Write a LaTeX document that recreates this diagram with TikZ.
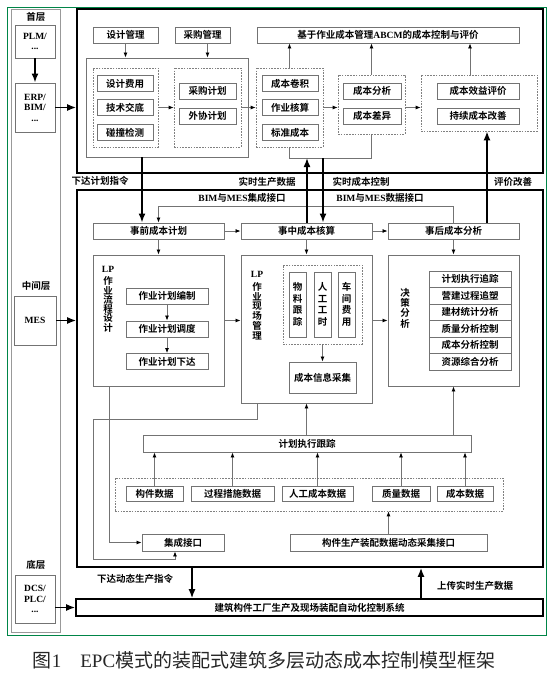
\documentclass[tikz,border=0pt]{standalone}
\usepackage{fontspec}
\setmainfont{Noto Sans CJK SC}[BoldFont={Noto Sans CJK SC Bold}]
\newfontfamily\latf{Liberation Serif}
\usetikzlibrary{positioning, arrows.meta}

\begin{document}
\begin{tikzpicture}[x=1pt, y=-1pt,
  box/.style={draw=black!55, line width=0.9pt, fill=white, inner sep=0pt, minimum height=16pt, align=center, font=\fontsize{9.5}{10.5}\selectfont\bfseries},
  vbox/.style={box, minimum width=17pt, minimum height=65pt, font=\fontsize{9.5}{11.5}\selectfont\bfseries},
  dbox/.style={draw=black!50, line width=0.7pt, dash pattern=on 1.6pt off 1.2pt, inner sep=0pt},
  thickbox/.style={draw=black, line width=1.6pt, inner sep=0pt},
  col/.style={draw=black!40, line width=0.9pt, inner sep=0pt},
  lbl/.style={inner sep=1pt, align=center, font=\fontsize{9.5}{10}\selectfont\bfseries},
  arrow/.style={-{Latex[length=5pt,width=4pt,color=black]}, draw=black!55, line width=0.8pt},
  link/.style={draw=black!55, line width=0.8pt},
  bigarrow/.style={-{Latex[length=9pt,width=7pt]}, line width=1.6pt}
]
  \useasboundingbox (0,0) rectangle (550,680);
  \draw[draw=teal!70!green!80!black, line width=1pt] (7,7) rectangle (546,635);

  % left column: layers
  \node[col, minimum width=49pt, minimum height=623pt] (col) at (35.5,320.5) {};
  \node[lbl] (top) at (36,17) {首层};
  \node[box, minimum width=40pt, minimum height=33pt] (plm) at (35,41.5) {{\latf PLM/}\\{\latf ...}};
  \node[box, minimum width=40pt, minimum height=49pt] (erp) at (35,107.5) {{\latf ERP/}\\{\latf BIM/}\\{\latf ...}};
  \node[lbl] (mid) at (36,286) {中间层};
  \node[box, minimum width=42pt, minimum height=49pt] (mes) at (35,320.5) {\latf MES};
  \node[lbl] (bot) at (36,565) {底层};
  \node[box, minimum width=40pt, minimum height=48pt] (dcs) at (35,599) {{\latf DCS/}\\{\latf PLC/}\\{\latf ...}};

  % upper block
  \node[thickbox, minimum width=466pt, minimum height=164pt] (upper) at (310,91) {};
  \node[box, minimum width=65pt] (sjgl) at (125.5,35) {设计管理};
  \node[box, minimum width=55pt] (cggl) at (202.5,35) {采购管理};
  \node[box, minimum width=262pt] (abcm) at (388,35) {基于作业成本管理{\latf ABCM}的成本控制与评价};
  \node[box, minimum width=162pt, minimum height=99pt] (plan) at (167,107.5) {};
  \node[dbox, minimum width=65pt, minimum height=79pt] (d1) at (125.5,107.5) {};
  \node[box, minimum width=56pt] (sjfy) at (125,83.5) {设计费用};
  \node[box, minimum width=56pt] (jsjd) at (125,107.5) {技术交底};
  \node[box, minimum width=56pt] (pzjc) at (125,132.5) {碰撞检测};
  \node[dbox, minimum width=67pt, minimum height=79pt] (d2) at (207.5,107.5) {};
  \node[box, minimum width=57pt] (cgjh) at (207.5,91) {采购计划};
  \node[box, minimum width=57pt] (wxjh) at (207.5,116) {外协计划};
  \node[dbox, minimum width=67pt, minimum height=79pt] (d3) at (289.5,107.5) {};
  \node[box, minimum width=56pt] (cbjj) at (290,83.5) {成本卷积};
  \node[box, minimum width=56pt] (zyhs) at (290,107.5) {作业核算};
  \node[box, minimum width=56pt] (bzcb) at (290,132.5) {标准成本};
  \node[dbox, minimum width=67pt, minimum height=59pt] (d4) at (371.5,104.5) {};
  \node[box, minimum width=58pt] (cbfx) at (372,91) {成本分析};
  \node[box, minimum width=58pt] (cbcy) at (372,116) {成本差异};
  \node[dbox, minimum width=116pt, minimum height=56pt] (d5) at (479,103) {};
  \node[box, minimum width=82pt] (cbxy) at (478,91) {成本效益评价};
  \node[box, minimum width=82pt] (cxgs) at (478,116) {持续成本改善};

  \draw[arrow] (d1.north |- sjgl.south) -- (d1.north |- plan.north);
  \draw[arrow] (d2.north |- cggl.south) -- (d2.north |- plan.north);
  \draw[arrow] (d1.east) -- (d2.west);
  \draw[arrow] (d2.east) -- (d3.west);
  \draw[arrow] (d3.east) -- (d3.east -| d4.west);
  \draw[arrow] (d3.east -| d4.east) -- (d3.east -| d5.west);
  \draw[arrow] (d3.north) -- (d3.north |- abcm.south);
  \draw[arrow] (d4.north) -- (d4.north |- abcm.south);
  \draw[arrow] ([xshift=-9pt]d5.north) -- ([xshift=-9pt]d5.north |- abcm.south);
  \coordinate (brk) at (0,158);
  \draw[link] (d3.south) -- (d3.south |- brk) -| (d4.south);

  % between the blocks
  \node[lbl] (xdjh) at (100,181) {下达计划指令};
  \node[lbl] (sssc) at (267,182) {实时生产数据};
  \node[lbl] (sscb) at (361,182) {实时成本控制};
  \node[lbl] (pjgs) at (513,182) {评价改善};

  % lower block
  \node[thickbox, minimum width=466pt, minimum height=377pt] (lower) at (310,378.5) {};
  \node[lbl] (jcjk) at (242,198) {{\latf BIM}与{\latf MES}集成接口};
  \node[lbl] (sjjk) at (380,198) {{\latf BIM}与{\latf MES}数据接口};
  \node[box, minimum width=131pt] (sq) at (158.5,231) {事前成本计划};
  \node[box, minimum width=131pt] (sz) at (306.5,231) {事中成本核算};
  \node[box, minimum width=131pt] (sh) at (453.5,231) {事后成本分析};

  \node[box, minimum width=131pt, minimum height=131pt] (lp1) at (158.5,320.5) {};
  \node[lbl, anchor=north, font=\fontsize{9.5}{9.3}\selectfont\bfseries] (lp1t) at (108,265) {{\latf LP}\\[3pt]作\\业\\流\\程\\设\\计};
  \node[box, minimum width=82pt] (zb) at (167,296) {作业计划编制};
  \node[box, minimum width=82pt] (zd) at (167,329) {作业计划调度};
  \node[box, minimum width=82pt] (zx) at (167,361.5) {作业计划下达};

  \node[box, minimum width=131pt, minimum height=148pt] (lp2) at (306.5,329) {};
  \node[lbl, anchor=north, font=\fontsize{9.5}{9.8}\selectfont\bfseries] (lp2t) at (257,270) {{\latf LP}\\[3pt]作\\业\\现\\场\\管\\理};
  \node[dbox, minimum width=79pt, minimum height=79pt] (d6) at (322.5,304.5) {};
  \node[vbox] (wl) at (297.5,304.5) {物\\料\\跟\\踪};
  \node[vbox] (rg) at (322.5,304.5) {人\\工\\工\\时};
  \node[vbox] (cj) at (346.5,304.5) {车\\间\\费\\用};
  \node[box, minimum width=67pt, minimum height=31pt] (cx) at (322.5,377.5) {成本信息采集};

  \node[box, minimum width=131pt, minimum height=131pt] (jc) at (453.5,320.5) {};
  \node[lbl, anchor=north, font=\fontsize{9.5}{10.3}\selectfont\bfseries] (jct) at (405,287) {决\\策\\分\\析};
  \node[box, minimum width=82pt, minimum height=16.5pt] (s1) at (470,279.25) {计划执行追踪};
  \node[box, minimum width=82pt, minimum height=16.5pt] (s2) at (470,295.75) {营建过程追塑};
  \node[box, minimum width=82pt, minimum height=16.5pt] (s3) at (470,312.25) {建材统计分析};
  \node[box, minimum width=82pt, minimum height=16.5pt] (s4) at (470,328.75) {质量分析控制};
  \node[box, minimum width=82pt, minimum height=16.5pt] (s5) at (470,345.25) {成本分析控制};
  \node[box, minimum width=82pt, minimum height=16.5pt] (s6) at (470,361.75) {资源综合分析};

  \node[box, minimum width=328pt, minimum height=17pt] (jh) at (307,443.5) {计划执行跟踪};
  \node[dbox, minimum width=388pt, minimum height=33pt] (d7) at (309,494.5) {};
  \node[box, minimum width=57pt, minimum height=15pt] (gj) at (154.5,493.5) {构件数据};
  \node[box, minimum width=83pt, minimum height=15pt] (gc) at (232.5,493.5) {过程措施数据};
  \node[box, minimum width=71pt, minimum height=15pt] (rc) at (317.5,493.5) {人工成本数据};
  \node[box, minimum width=58pt, minimum height=15pt] (zl) at (401,493.5) {质量数据};
  \node[box, minimum width=56pt, minimum height=15pt] (cb) at (465,493.5) {成本数据};
  \node[box, minimum width=197pt, minimum height=17pt] (dt) at (388.5,542.5) {构件生产装配数据动态采集接口};
  \node[box, minimum width=82pt, minimum height=17pt] (jk) at (183,542.5) {集成接口};

  \draw[arrow] (sq.east) -- (sz.west);
  \draw[arrow] (sz.east) -- (sh.west);
  \draw[arrow] (sh.north) -- ++(0,-16) -| (sq.north);
  \draw[arrow] (sq.south) -- (lp1.north);
  \draw[arrow] (sz.south) -- (lp2.north);
  \draw[arrow] (sh.south) -- (jc.north);
  \draw[arrow] (zb) -- (zd);
  \draw[arrow] (zd) -- (zx);
  \draw[arrow] (lp1.east) -- (lp2.west |- lp1.east);
  \draw[arrow] (lp1.east -| lp2.east) -- (lp1.east -| jc.west);
  \draw[arrow] (d6.south) -- (cx.north);
  \draw[arrow] (jh.north -| lp2.south) -- (lp2.south);
  \draw[arrow] (jh.north -| jc.south) -- (jc.south);
  \draw[arrow] (gj.north) -- (gj.north |- jh.south);
  \draw[arrow] (gc.north) -- (gc.north |- jh.south);
  \draw[arrow] (rc.north) -- (rc.north |- jh.south);
  \draw[arrow] (zl.north) -- (zl.north |- jh.south);
  \draw[arrow] (cb.north) -- (cb.north |- jh.south);
  \draw[arrow] (dt.north) -- (dt.north |- d7.south);
  \coordinate (xa) at (109,0);
  \draw[arrow] (lp1.south -| xa) |- (jk.west);
  \coordinate (ra) at (257,419);
  \coordinate (rb) at (93,559);
  \draw[arrow] (lp2.south -| ra) -- (ra) -| (rb) -| ([xshift=-8pt]jk.south);

  % thick connectors between layers
  \coordinate (xplan) at (142,0);
  \coordinate (xup) at (307,0);
  \coordinate (xdn) at (323,0);
  \coordinate (xev) at (487,0);
  \draw[bigarrow] (plm.south) -- (erp.north);
  \draw[bigarrow] (erp.east) -- (erp.east -| upper.west);
  \draw[bigarrow] (mes.east) -- (mes.east -| lower.west);
  \draw[bigarrow] (plan.south -| xplan) -- (sq.north -| xplan);
  \draw[bigarrow] (sz.north -| xup) -- (brk -| xup);
  \draw[bigarrow] (brk -| xdn) -- (sz.north -| xdn);
  \draw[bigarrow] (sh.north -| xev) -- (d5.south -| xev);

  % bottom layer
  \node[thickbox, fill=white, minimum width=467pt, minimum height=17pt, font=\fontsize{9.5}{10.5}\selectfont\bfseries] (zk) at (309.5,607.5) {建筑构件工厂生产及现场装配自动化控制系统};
  \coordinate (xcmd) at (192,0);
  \coordinate (xdat) at (421,0);
  \draw[bigarrow] (dcs.east |- zk.west) -- (zk.west);
  \draw[bigarrow] (lower.south -| xcmd) -- (zk.north -| xcmd);
  \draw[bigarrow] (zk.north -| xdat) -- (lower.south -| xdat);
  \node[lbl] (xddt) at (135,579) {下达动态生产指令};
  \node[lbl] (scss) at (475,586) {上传实时生产数据};

  \node[font=\fontsize{19}{20}\selectfont, text=black!85] (cap) at (264,660) {图{\latf 1}\hspace{1em}{\latf EPC}模式的装配式建筑多层动态成本控制模型框架};
\end{tikzpicture}
\end{document}
